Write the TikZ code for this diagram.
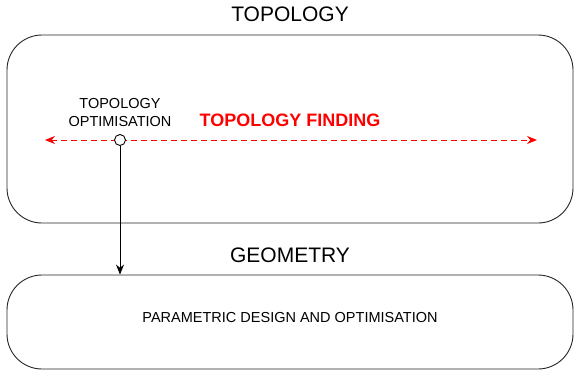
\documentclass[tikz,border=0pt]{standalone}
\usepackage{fontspec}
\setmainfont{Liberation Sans}
\usetikzlibrary{arrows.meta}

\begin{document}
\begin{tikzpicture}[
    x=1pt, y=-1pt,
    panel/.style={draw=black!85, line width=0.9pt, rounded corners=35pt,
      minimum width=566pt, inner sep=0pt},
    title/.style={font=\fontsize{21}{24}\selectfont, anchor=base, inner sep=0pt},
    lbl/.style={font=\fontsize{14.5}{18}\selectfont, align=center, inner sep=0pt},
    find/.style={font=\bfseries\fontsize{18}{21}\selectfont, text=red, anchor=base, inner sep=0pt}
  ]
  \useasboundingbox (0,0) rectangle (575,373);

  \node[panel, minimum height=188pt] (topo) at (290,129) {};
  \node[panel, minimum height=94pt] (geo) at (290,322) {};

  \node[title] (topot) at (290,21.5) {TOPOLOGY};
  \node[title] (geot) at (290,262) {GEOMETRY};

  \node[lbl, anchor=base] (optl) at (120,126) {TOPOLOGY\\OPTIMISATION};
  \node[find] (findl) at (290,126.5) {TOPOLOGY FINDING};
  \node[lbl, anchor=base] (paraml) at (290,322.5) {PARAMETRIC DESIGN AND OPTIMISATION};

  \coordinate (fl) at (45,140);
  \coordinate (fr) at (537,140);
  \draw[red, line width=0.9pt, dash pattern=on 6pt off 4pt,
    {Stealth[length=10pt,width=8pt]}-{Stealth[length=10pt,width=8pt]}] (fl) -- (fr);

  \node[draw, circle, fill=white, line width=0.9pt, minimum size=11pt, inner sep=0pt] (optpt) at (120,140) {};
  \draw[line width=0.9pt, -{Stealth[length=10pt,width=8pt]}] (optpt) -- (optpt |- geo.north);
\end{tikzpicture}
\end{document}
